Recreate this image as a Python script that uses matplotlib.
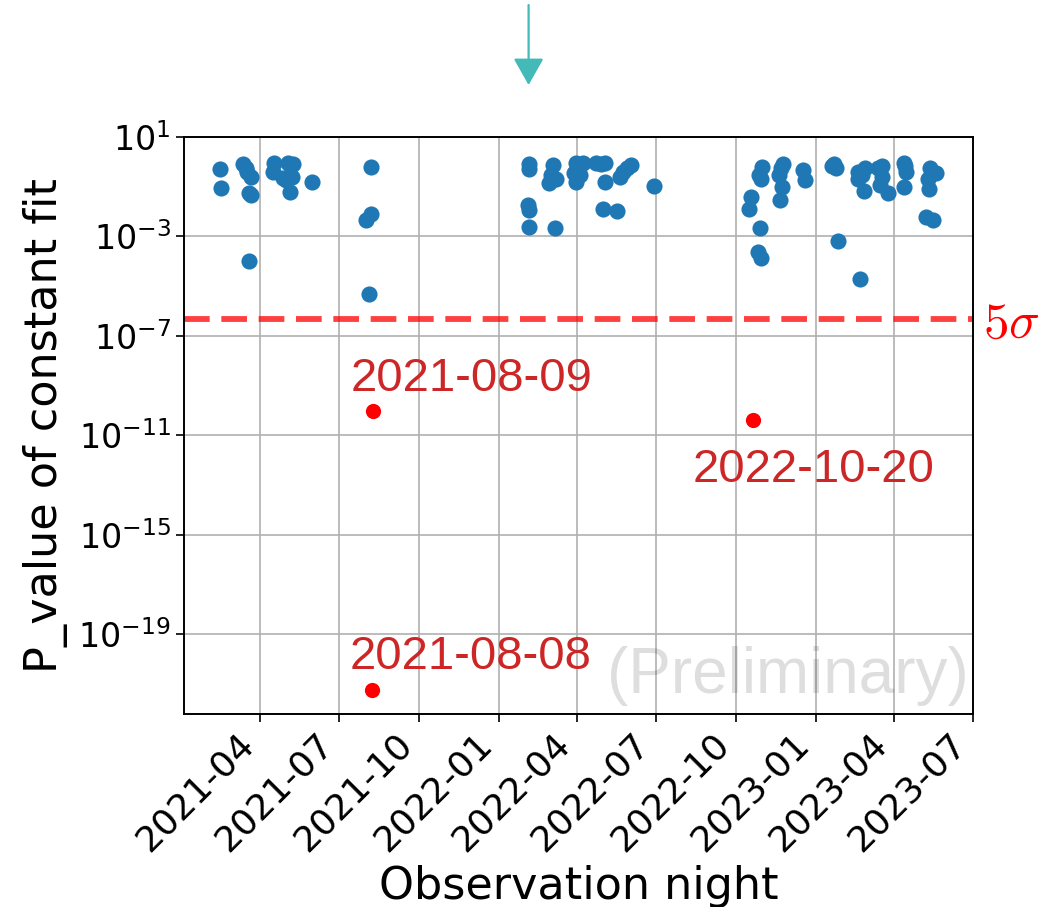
import matplotlib
matplotlib.use("Agg")
import matplotlib.pyplot as plt
import matplotlib.dates as mdates
import numpy as np
import pandas as pd

# ---------------- data ----------------
night_dates = [
    '2021-02-13', '2021-02-15', '2021-03-12', '2021-03-15', '2021-03-17', '2021-03-21',
    '2021-03-19', '2021-03-21', '2021-03-19', '2021-04-17', '2021-04-16', '2021-05-03',
    '2021-05-09', '2021-05-01', '2021-05-03', '2021-05-08', '2021-04-27', '2021-05-05',
    '2021-05-30', '2021-08-06', '2021-08-06', '2021-08-01', '2021-08-04',
    '2022-02-05', '2022-02-04', '2022-02-03', '2022-02-04', '2022-02-05', '2022-03-07',
    '2022-03-04', '2022-02-27', '2022-03-08', '2022-03-02', '2022-03-31', '2022-04-08',
    '2022-03-31', '2022-04-04', '2022-03-28', '2022-04-23', '2022-05-03', '2022-04-28',
    '2022-05-03', '2022-05-01', '2022-05-17', '2022-05-20', '2022-05-24', '2022-05-28',
    '2022-06-02', '2022-06-28',
    '2022-10-31', '2022-10-27', '2022-10-30', '2022-10-18', '2022-10-16', '2022-10-29',
    '2022-10-26', '2022-10-30', '2022-11-24', '2022-11-22', '2022-11-20', '2022-11-23',
    '2022-11-21', '2022-12-17', '2022-12-19', '2023-01-20', '2023-01-24', '2023-01-22',
    '2023-01-26', '2023-02-21', '2023-02-19', '2023-02-27', '2023-02-19', '2023-02-23',
    '2023-02-25', '2023-03-14', '2023-03-18', '2023-03-18', '2023-03-16', '2023-03-25',
    '2023-04-13', '2023-04-15', '2023-04-14', '2023-04-12', '2023-05-12', '2023-05-19',
    '2023-05-10', '2023-05-11', '2023-05-08', '2023-05-16',
]
p_values = [
    0.50, 0.09, 0.80, 0.55, 0.40, 0.25,
    0.054, 0.046, 1.0e-4, 0.87, 0.38, 0.87,
    0.80, 0.19, 0.25, 0.25, 0.22, 0.063,
    0.16, 0.63, 0.0083, 0.0048, 5e-6,
    0.79, 0.54, 0.018, 0.012, 0.0024, 0.0021,
    0.74, 0.14, 0.21, 0.30, 0.87, 0.87,
    0.16, 0.30, 0.35, 0.87, 0.87, 0.80,
    0.16, 0.013, 0.011, 0.25, 0.40, 0.55,
    0.74, 0.105,
    0.63, 0.30, 0.21, 0.04, 0.013, 0.0021,
    2.4e-4, 1.4e-4, 0.81, 0.55, 0.29, 0.096,
    0.030, 0.47, 0.19, 0.71, 0.55, 0.80,
    6.4e-4, 1.9e-5, 0.40, 0.55, 0.21, 0.30,
    0.069, 0.55, 0.68, 0.25, 0.115, 0.054,
    0.87, 0.39, 0.70, 0.10, 0.55, 0.37,
    0.20, 0.079, 0.0062, 0.0045,
]

flare_dates = ['2021-08-08', '2021-08-09', '2022-10-20']
flare_p = [6e-22, 1e-10, 4e-11]
flare_offsets = [(98, 33), (98, 32), (61, -50)]  # text offset in pixels

five_sigma_p = 4.6e-7
arrow_date = '2022-02-04'

ytick_vals = [1e1, 1e-3, 1e-7, 1e-11, 1e-15, 1e-19]
xtick_dates = ['2021-04-01', '2021-07-01', '2021-10-01', '2022-01-01', '2022-04-01',
               '2022-07-01', '2022-10-01', '2023-01-01', '2023-04-01', '2023-07-01']

# ---------------- plot ----------------
fig = plt.figure(figsize=(10.4, 9.07), dpi=100)
ax = fig.add_axes([184/1040, 1-714/907, (973-184)/1040, (714-137)/907])

ax.set_yscale('log')
ax.grid(True, color='#b0b0b0', lw=1.2, zorder=0)
ax.set_axisbelow(True)

ax.scatter(pd.to_datetime(night_dates), p_values, s=135, color='#1f77b4', zorder=3,
           linewidths=0)
ax.scatter(pd.to_datetime(flare_dates), flare_p, s=120, color='red', zorder=3,
           linewidths=0)

for d, p, off in zip(flare_dates, flare_p, flare_offsets):
    ax.annotate(d, xy=(pd.Timestamp(d), p), xytext=off, textcoords='offset pixels',
                ha='center', va='center', fontsize=34, color='#cc2626',
                family='Liberation Sans')

ax.axhline(five_sigma_p, color='red', alpha=0.75, ls='--', lw=4.2, dashes=(4.4, 2.0),
           zorder=2)
ax.annotate(r'$5\sigma$', xy=(1.0, five_sigma_p), xycoords=ax.get_yaxis_transform(),
            xytext=(10, -4), textcoords='offset pixels',
            color='red', fontsize=37, va='center', ha='left', math_fontfamily='cm',
            annotation_clip=False)

ax.text(0.995, 0.065, '(Preliminary)', transform=ax.transAxes, ha='right', va='center',
        fontsize=46, color='black', alpha=0.13, family='Liberation Sans')

ax.annotate('', xy=(pd.Timestamp(arrow_date), 1-85/907),
            xytext=(pd.Timestamp(arrow_date), 1-5/907),
            xycoords=('data', 'figure fraction'), textcoords=('data', 'figure fraction'),
            arrowprops=dict(arrowstyle='-|>,head_length=0.83,head_width=0.47',
                            color='#44b9b9', lw=1.6, shrinkA=0, shrinkB=0,
                            mutation_scale=20),
            annotation_clip=False)

ax.set_xlim(pd.Timestamp('2021-01-03'), pd.Timestamp('2023-07-01'))
ax.set_ylim(10**-22.2, 10**1)
ax.set_yticks(ytick_vals)
ax.yaxis.set_minor_locator(matplotlib.ticker.NullLocator())
ax.set_xticks(pd.to_datetime(xtick_dates))
ax.xaxis.set_major_formatter(mdates.DateFormatter('%Y-%m'))
ax.tick_params(axis='x', labelsize=26, length=6, width=1.2)
ax.tick_params(axis='y', labelsize=24, length=6, width=1.2)
plt.setp(ax.get_xticklabels(), rotation=45, ha='right')
for s in ax.spines.values():
    s.set_linewidth(1.4)

ax.set_xlabel('Observation night', fontsize=32)
ax.set_ylabel('P_value of constant fit', fontsize=32)
ax.xaxis.set_label_coords(0.5, -0.262)
ax.yaxis.set_label_coords(-0.147, 0.5)

fig.savefig('out.png', dpi=100)
